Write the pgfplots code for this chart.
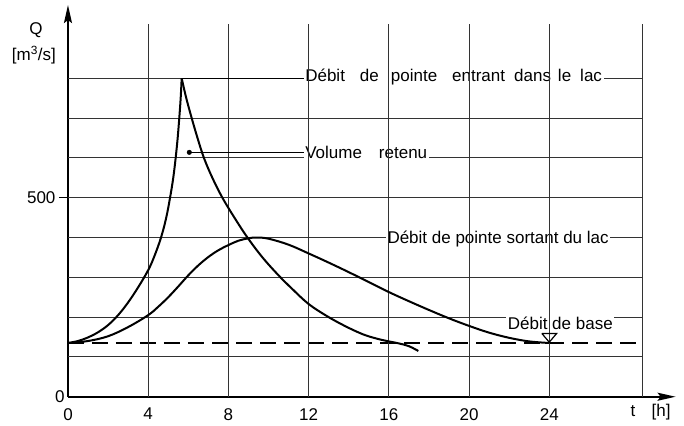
\documentclass[border=0pt]{standalone}
\usepackage{fontspec}
\setmainfont{Liberation Sans}
\usepackage{pgfplots}
\pgfplotsset{compat=1.18}
\usetikzlibrary{arrows.meta}
\newcommand{\lf}{\fontsize{17bp}{20bp}\selectfont}
\tikzset{
  gridl/.style={line width=0.9bp, black!80},
  curve/.style={line width=2bp, black, smooth, tension=0.6},
  lab/.style={font=\lf, fill=white, inner sep=1.5bp, anchor=base west},
}

\pgfplotstableread{
x y
0 135
0.5 140
1 149
1.5 162
2 180
2.5 205
3 237
3.5 275
4 318
4.3 352
4.64 400
4.9 450
5.09 500
5.25 550
5.37 600
5.47 650
5.55 700
5.62 750
5.67 800
}\inrise

\pgfplotstableread{
x y
5.67 800
5.9 750
6.17 700
6.46 650
6.78 600
7.2 550
7.7 500
8.3 450
8.95 400
9.7 350
10.5 305
11.2 270
12 233
12.9 203
13.8 178
14.7 157
15.4 146
16 139
16.5 134
17 127
17.47 115
}\infall

\pgfplotstableread{
x y
0 135
1 140
2 152
3 175
4 205
4.5 226
5 250
5.5 277
6 305
6.5 330
7 351
7.5 368
8 381
8.5 392
9 398
9.4 400
10 397
11 382
12 360
13 337
14 313
15 288
16 263
17 240
18 218
19 197
20 178
21 161
22 148
23 139
24 135
}\outflow

\begin{document}
\begin{tikzpicture}
\begin{axis}[
  x=20.05bp, y=0.398bp,
  xmin=0, xmax=30.3, ymin=0, ymax=984,
  axis lines=left,
  axis line style={line width=1.8bp, -{Stealth[length=18bp,width=8bp,inset=3bp]}},
  clip=false,
  xtick={0,4,...,24},
  ytick={500},
  extra y ticks={0},
  extra y tick style={grid=none, major tick length=0pt},
  xtick style={draw=none},
  ytick style={line width=1.2bp, black},
  major tick length=9bp,
  tick align=outside,
  /pgf/number format/assume math mode=true,
  ticklabel style={font=\lf},
  xticklabel style={yshift=1bp},
]
% horizontal grid lines
\pgfplotsinvokeforeach{100,200,...,800}{
  \addplot[gridl] coordinates {(0,#1) (28.66,#1)};
}
% base flow (dashed)
\addplot[line width=1.1bp, black, dash pattern=on 16bp off 8bp] coordinates {(0,135) (28.66,135)};

% labels (white background breaks the horizontal lines)
\node[lab] at (axis cs:11.75,791) {Débit\hspace{15bp}de\hspace{12bp}pointe\hspace{15bp}entrant\hspace{9bp}dans\hspace{7bp}le\hspace{9bp}lac};
\node[lab] at (axis cs:11.75,599) {Volume\hspace{17bp}retenu};
\node[lab] at (axis cs:15.85,384) {Débit de pointe sortant du lac};
\node[lab] at (axis cs:21.85,168) {Débit de base};

% vertical grid lines
\pgfplotsinvokeforeach{4,8,...,24,28.66}{
  \addplot[gridl] coordinates {(#1,0) (#1,936)};
}

% leader lines
\addplot[line width=1.1bp, black] coordinates {(5.67,800) (11.75,800)};
\addplot[line width=1.1bp, black] coordinates {(6.05,614) (11.75,614)};
\addplot[only marks, mark=*, mark size=2.3bp, black] coordinates {(6.05,614)};

% hydrographs
\addplot[curve] table {\inrise};
\addplot[curve] table {\infall};
\addplot[curve] table {\outflow};

% base flow marker
\addplot[line width=1.2bp, black] coordinates {(23.63,159) (24.37,159) (24,137) (23.63,159)};

% axis labels
\node[font=\lf] at (axis cs:-1.6,920) {Q};
\node[font=\lf] at (axis cs:-1.7,858) {[m\textsuperscript{3}/s]};
\node[font=\lf, anchor=base] at (axis cs:28.18,-50) {t};
\node[font=\lf, anchor=base] at (axis cs:29.58,-50) {[h]};

\coordinate (bbl) at (axis cs:-3.39,-71.1);
\coordinate (bbr) at (axis cs:30.72,996.7);
\end{axis}
\pgfresetboundingbox
\useasboundingbox (bbl) rectangle (bbr);
\end{tikzpicture}
\end{document}
